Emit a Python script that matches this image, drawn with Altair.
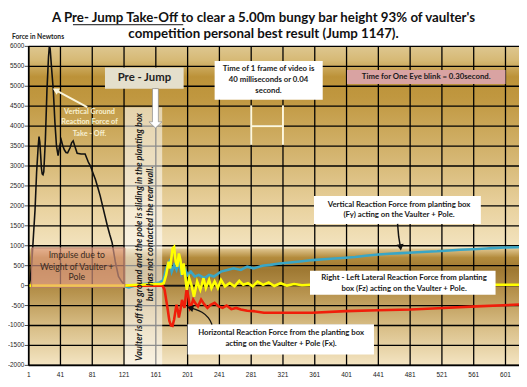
import altair as alt
import pandas as pd

# ---------------- data ----------------
x_ticks = [1, 41, 81, 121, 161, 201, 241, 281, 321, 361, 401, 441, 481, 521, 561, 601]
x_labels = ["1", "41", "81", "121", "161", "201", "241", "281", "321", "361", "401",
            "441", "481", "521", "561", "601"]
y_ticks = [-2000, -1500, -1000, -500, 0, 500, 1000, 1500, 2000, 2500, 3000,
           3500, 4000, 4500, 5000, 5500, 6000]
y_labels = ["-2000", "-1500", "-1000", "-500", "0", "500", "1000", "1500", "2000", "2500",
            "3000", "3500", "4000", "4500", "5000", "5500", "6000"]

# Vertical ground reaction force of take-off (black)
grf_frame = [1, 3, 5, 7, 9, 11, 13, 14, 15, 16, 17, 18, 19, 20, 22, 24, 26, 27, 28, 30,
             32, 34, 36, 38, 40, 42, 44, 46, 48, 50, 53, 55, 57, 59, 62, 67, 72, 76, 79,
             82, 85, 88, 91, 94, 97, 100, 103, 106, 110, 114, 118, 121, 124, 235]
grf_force = [0, 150, 600, 1250, 1900, 2850, 3500, 3735, 3600, 3300, 2950, 2800, 2780, 2850,
             3650, 4900, 5750, 6000, 5950, 5400, 4900, 4100, 3500, 3260, 3500, 3650, 3500,
             3400, 3340, 3330, 3450, 3580, 3630, 3500, 3320, 3300, 3300, 3100, 2990, 2820,
             2660, 2460, 2250, 2000, 1750, 1500, 1280, 1080, 600, 230, 100, 30, 0, 0]

# Vertical reaction force from planting box, Fy (blue)
fy_frame = [1, 121, 124, 127, 131, 136, 141, 146, 151, 156, 161, 166, 170, 172, 174, 176,
            178, 179, 181, 184, 187, 190, 193, 196, 198, 201, 205, 210, 215, 222, 228, 234,
            243, 251, 259, 268, 276, 284, 295, 305, 317, 330, 345, 358, 372, 386, 400, 412,
            425, 441, 455, 470, 485, 502, 515, 530, 544, 560, 577, 585, 600, 618]
fy_force = [0, 0, -30, -45, -20, 10, 30, 40, 50, 55, 60, 80, 130, 250, 420, 520, 600, 540,
            351, 516, 392, 598, 310, 475, 400, 268, 351, 227, 268, 186, 268, 227, 351, 392,
            433, 392, 475, 433, 500, 520, 557, 580, 610, 640, 660, 680, 700, 720, 750, 780,
            800, 815, 830, 850, 860, 880, 900, 912, 930, 940, 955, 962]

# Horizontal reaction force from planting box, Fx (red)
fx_frame = [1, 168, 170, 172, 174, 176, 178, 180, 182, 184, 186, 187, 189, 190, 192, 194,
            196, 197, 199, 200, 202, 204, 206, 208, 211, 214, 218, 222, 226, 230, 235, 240,
            245, 250, 256, 262, 268, 276, 284, 297, 320, 358, 400, 440, 482, 523, 564, 618]
fx_force = [0, 0, -20, -100, -350, -600, -880, -1000, -1010, -850, -600, -480, -650, -800,
            -600, -360, -480, -557, -200, -62, -300, -557, -480, -351, -450, -520, -351,
            -470, -557, -480, -433, -520, -557, -500, -590, -560, -600, -630, -640, -680,
            -680, -680, -640, -620, -600, -560, -520, -475]

# Right-left lateral reaction force from planting box, Fz (yellow)
fz_frame = [1, 121, 140, 160, 168, 171, 174, 177, 179, 182, 184, 186, 188, 190, 192, 194,
            196, 200, 203, 206, 209, 213, 217, 221, 224, 228, 231, 235, 239, 243, 248, 254,
            260, 266, 271, 277, 283, 289, 296, 303, 310, 318, 326, 335, 345, 355, 618]
fz_force = [0, 0, 20, 40, 40, 60, 268, 598, 433, 929, 970, 598, 475, 805, 640, 268, 557,
            -104, 186, 0, -280, 104, -104, 186, -62, 144, -62, 104, -62, 144, -20, 62, -20,
            120, 20, 62, -20, 100, 20, 80, -10, 60, 0, 40, 10, 20, 20]

title_1 = "A Pre- Jump Take-Off to clear  a 5.00m  bungy bar height 93%  of vaulter's"
title_2 = "competition personal best result (Jump 1147)."
y_title = "Force in Newtons"

# ---------------- layout ----------------
W, H = 498, 324
X_MIN, X_MAX, Y_MIN, Y_MAX = 1, 618, -2000, 6000
xs = alt.Scale(domain=[X_MIN, X_MAX], nice=False, zero=False)
ys = alt.Scale(domain=[Y_MIN, Y_MAX], nice=False, zero=False)
FONT = "Lato"


def X(f):
    return alt.X(f"{f}:Q", scale=xs, axis=None)


def Y(f):
    return alt.Y(f"{f}:Q", scale=ys, axis=None)


one = pd.DataFrame({"k": [0]})
SPLIT = 938  # force level where the two background gradient panels meet

# background gradients (placed in data space so they stay inside the plot)
bg_top = alt.Chart(pd.DataFrame({"a": [X_MIN], "b": [X_MAX], "c": [SPLIT], "d": [Y_MAX]})).mark_rect(
    fill=alt.Gradient(gradient="linear", x1=0, x2=0, y1=0, y2=1, stops=[
        alt.GradientStop(color="#dec790", offset=0),
        alt.GradientStop(color="#d6b975", offset=0.07),
        alt.GradientStop(color="#bc9239", offset=0.15),
        alt.GradientStop(color="#c0973f", offset=0.25),
        alt.GradientStop(color="#d5b672", offset=0.55),
        alt.GradientStop(color="#e9d29f", offset=0.8),
        alt.GradientStop(color="#f3e4c0", offset=1)])
).encode(x=X("a"), x2="b:Q", y=Y("c"), y2="d:Q")

bg_bot = alt.Chart(pd.DataFrame({"a": [X_MIN], "b": [X_MAX], "c": [Y_MIN], "d": [SPLIT]})).mark_rect(
    fill=alt.Gradient(gradient="linear", x1=0, x2=0, y1=0, y2=1, stops=[
        alt.GradientStop(color="#e2c994", offset=0),
        alt.GradientStop(color="#b38b3c", offset=0.08),
        alt.GradientStop(color="#9e7832", offset=0.18),
        alt.GradientStop(color="#b7934e", offset=0.38),
        alt.GradientStop(color="#d9bf88", offset=0.68),
        alt.GradientStop(color="#f4e5c3", offset=1)])
).encode(x=X("a"), x2="b:Q", y=Y("c"), y2="d:Q")

# grid
vgrid = alt.Chart(pd.DataFrame({"frame": x_ticks, "c": Y_MIN, "d": Y_MAX})).mark_rule(
    color="#000", strokeWidth=1.3).encode(x=X("frame"), y=Y("c"), y2="d:Q")
hgrid = alt.Chart(pd.DataFrame({"force": y_ticks, "a": X_MIN, "b": X_MAX})).mark_rule(
    color="#000", strokeWidth=1.3).encode(y=Y("force"), x=X("a"), x2="b:Q")

# light band "vaulter is off the ground"
band = alt.Chart(pd.DataFrame({"a": [122], "b": [169], "c": [-2000], "d": [4471]})).mark_rect(
    fill="#ffffff", fillOpacity=0.55).encode(x=X("a"), x2="b:Q", y=Y("c"), y2="d:Q")


# series
def series(fr, fo, color, width):
    return alt.Chart(pd.DataFrame({"frame": fr, "force": fo})).mark_line(
        color=color, strokeWidth=width).encode(x=X("frame"), y=Y("force"))


l_grf = series(grf_frame, grf_force, "#111111", 1.6)
l_fy = series(fy_frame, fy_force, "#3aa6c6", 2.6)
l_fx = series(fx_frame, fx_force, "#f01e0a", 2.6)
l_fz = series(fz_frame, fz_force, "#ffff00", 2.6)

# impulse box (translucent, over the lines)
impulse = alt.Chart(pd.DataFrame({"a": [4.7], "b": [122], "c": [-45], "d": [946]})).mark_rect(
    fill="#e6a28e", fillOpacity=0.62, stroke="#b47c68", strokeWidth=1).encode(
    x=X("a"), x2="b:Q", y=Y("c"), y2="d:Q")

# note boxes
boxes = pd.DataFrame({
    "a": [97, 235, 401.5, 360, 355, 201],
    "b": [196, 371, 601, 570, 588.5, 435.5],
    "c": [4934, 4662, 5058, 1548, -228, -1729],
    "d": [5469, 5635, 5405, 2249, 372, -971],
    "fill": ["#e4dfcc", "#ffffff", "#d9a3a2", "#ffffff", "#ffffff", "#ffffff"],
})
note_boxes = alt.Chart(boxes).mark_rect().encode(
    x=X("a"), x2="b:Q", y=Y("c"), y2="d:Q", fill=alt.Fill("fill:N", scale=None))

# "H" frame-time marker
h_rules = alt.Chart(pd.DataFrame({"a": [281, 321, 281], "b": [281, 321, 321],
                                  "c": [3530, 3530, 4000], "d": [4520, 4520, 4000]})).mark_rule(
    color="#fff8dc", strokeWidth=2).encode(x=X("a"), x2="b:Q", y=Y("c"), y2="d:Q")

# arrows
vg_arrow = alt.Chart(pd.DataFrame({"a": [74.6], "b": [33.7], "c": [4478], "d": [4917]})).mark_rule(
    color="#fbf5da", strokeWidth=2).encode(x=X("a"), x2="b:Q", y=Y("c"), y2="d:Q")
fy_arrow = alt.Chart(pd.DataFrame({"frame": [465.2, 466.6, 468.9], "force": [1548, 1226, 954],
                                   "o": [0, 1, 2]})).mark_line(
    color="#111", strokeWidth=1.5).encode(x=X("frame"), y=Y("force"), order="o:Q")
fx_arrow = alt.Chart(pd.DataFrame({"frame": [231.7, 228.0, 219.3, 209.5, 202.1],
                                   "force": [-978, -805, -656, -582, -547],
                                   "o": [0, 1, 2, 3, 4]})).mark_line(
    color="#111", strokeWidth=1.3, interpolate="basis").encode(
    x=X("frame"), y=Y("force"), order="o:Q")

HEAD = "M -0.55 -1 L 0.55 -1 L 0 0 Z"
heads = pd.DataFrame({"frame": [31.2, 469.4, 200.2], "force": [4942, 879, -537],
                      "ang": [118, 353, 104], "col": ["#fbf5da", "#111111", "#111111"]})
arrow_heads = alt.Chart(heads).mark_point(shape=HEAD, filled=True, size=170, opacity=1).encode(
    x=X("frame"), y=Y("force"), angle=alt.Angle("ang:Q", scale=None),
    color=alt.Color("col:N", scale=None))

BIG = "M -0.15 -1 L 0.15 -1 L 0.15 0.685 L 0.33 0.685 L 0 1 L -0.33 0.685 L -0.15 0.685 Z"
pre_arrow = alt.Chart(pd.DataFrame({"frame": [160.5], "force": [4446]})).mark_point(
    shape=BIG, filled=True, size=1600, fill="#ffffff", stroke="#8a8a8a", strokeWidth=0.7,
    opacity=1).encode(x=X("frame"), y=Y("force"))

# texts
dark = pd.DataFrame({
    "t": ["Time of 1 frame of video is", "40 milliseconds or 0.04", "second.",
          "Time for One Eye blink = 0.30second.",
          "Vertical Reaction  Force from planting box", "(Fy) acting on the Vaulter + Pole.",
          "Right - Left Lateral Reaction Force from planting",
          "box (Fz) acting on the Vaulter + Pole.",
          "Horizontal Reaction Force from  the planting box",
          "acting on the Vaulter + Pole (Fx)."],
    "x": [302.8, 302.8, 302.8, 501.2, 467, 467, 473.4, 473.4, 318.6, 318.6],
    "y": [5430, 5157, 4875, 5231, 2026, 1771, 186, -79, -1177, -1466],
})
dark_text = alt.Chart(dark).mark_text(font=FONT, fontSize=7.9, fontWeight="bold",
                                      color="#1a1a1a").encode(x=X("x"), y=Y("y"), text="t:N")

imp = pd.DataFrame({"t": ["Impulse due to", "Weight of Vaulter +", "Pole"],
                    "x": [61.6, 61.6, 61.6], "y": [763, 475, 203]})
imp_text = alt.Chart(imp).mark_text(font=FONT, fontSize=8.8, color="#3a2a20").encode(
    x=X("x"), y=Y("y"), text="t:N")

vg = pd.DataFrame({"t": ["Vertical Ground", "Reaction Force of", "Take - Off."],
                   "x": [77.5, 77.5, 77.5], "y": [4354, 4107, 3795]})
vg_text = alt.Chart(vg).mark_text(font=FONT, fontSize=7.4, fontWeight="bold",
                                  color="#f7f0d2").encode(x=X("x"), y=Y("y"), text="t:N")

pre = pd.DataFrame({"t": ["Pre - Jump"], "x": [146.6], "y": [5202]})
pre_text = alt.Chart(pre).mark_text(font=FONT, fontSize=11.5, fontWeight="bold",
                                    color="#222").encode(x=X("x"), y=Y("y"), text="t:N")

bandt = pd.DataFrame({"t": ["Vaulter is off the ground and the pole is sliding in the planting box",
                            "but has not contacted the rear wall."],
                      "x": [140.4, 154], "y": [1218, 1300]})
band_text = alt.Chart(bandt).mark_text(font=FONT, fontSize=9.2, fontWeight="bold",
                                       fontStyle="italic", angle=270, color="#1a1a1a").encode(
    x=X("x"), y=Y("y"), text="t:N")

# axis lines, ticks and tick labels placed through the scales
x_dom = alt.Chart(pd.DataFrame({"a": [X_MIN], "b": [X_MAX], "c": [Y_MIN]})).mark_rule(
    color="#000", strokeWidth=1.6).encode(x=X("a"), x2="b:Q", y=Y("c"))
y_dom = alt.Chart(pd.DataFrame({"a": [X_MIN], "c": [Y_MIN], "d": [Y_MAX]})).mark_rule(
    color="#000", strokeWidth=1.6).encode(x=X("a"), y=Y("c"), y2="d:Q")
y_tk = alt.Chart(pd.DataFrame({"force": y_ticks})).mark_tick(
    color="#000", thickness=1, size=4, orient="horizontal", xOffset=-2).encode(
    y=Y("force"), x=alt.value(0))
x_lab = alt.Chart(pd.DataFrame({"frame": x_ticks, "lab": x_labels})).mark_text(
    font="Liberation Sans", fontSize=6.6, color="#222", baseline="middle").encode(
    x=X("frame"), y=alt.value(H + 10), text="lab:N")
y_lab = alt.Chart(pd.DataFrame({"force": y_ticks, "lab": y_labels})).mark_text(
    font="Liberation Sans", fontSize=6.5, color="#222", baseline="middle", align="right").encode(
    y=Y("force"), x=alt.value(-4.5), text="lab:N")

# title and axis caption (outside the plot area)
t1 = alt.Chart(pd.DataFrame({"t": [title_1]})).mark_text(
    font=FONT, fontSize=13.5, fontWeight="bold", color="#111").encode(
    x=alt.value(238.5), y=alt.value(-28.5), text="t:N")
t2 = alt.Chart(pd.DataFrame({"t": [title_2]})).mark_text(
    font=FONT, fontSize=13.5, fontWeight="bold", color="#111").encode(
    x=alt.value(238.5), y=alt.value(-12.5), text="t:N")
underline = alt.Chart(one).mark_rule(color="#111", strokeWidth=1).encode(
    x=alt.value(45), x2=alt.value(157), y=alt.value(-22))
ytitle = alt.Chart(pd.DataFrame({"t": [y_title]})).mark_text(
    font=FONT, fontSize=6.8, fontWeight="bold", color="#222", align="left").encode(
    x=alt.value(-17), y=alt.value(-9.5), text="t:N")

chart = alt.layer(
    bg_top, bg_bot, vgrid, hgrid, band, l_grf, l_fy, l_fx, l_fz, impulse, note_boxes,
    h_rules, vg_arrow, fy_arrow, fx_arrow, arrow_heads, pre_arrow,
    dark_text, imp_text, vg_text, pre_text, band_text,
    x_dom, y_dom, y_tk, x_lab, y_lab, t1, t2, underline, ytitle
).properties(
    width=W, height=H,
    padding={"left": 21, "top": 36, "right": 0, "bottom": 19},
    autosize=alt.AutoSizeParams(type="none"),
    background="#ffffff",
).configure_view(strokeWidth=0)

chart.save("out.html", embed_options={"renderer": "svg", "actions": False})
